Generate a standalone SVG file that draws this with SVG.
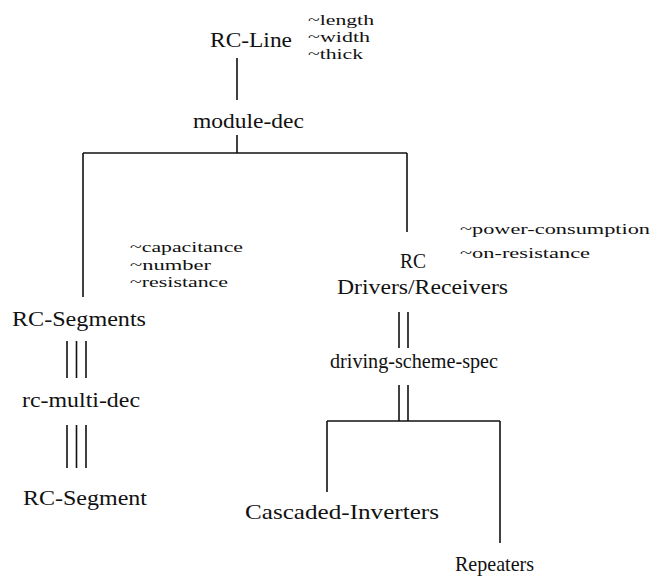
<svg xmlns="http://www.w3.org/2000/svg" width="652" height="577" viewBox="0 0 652 577">
  <style>
    .lbl { font-family: "Liberation Serif", "Times New Roman", serif; font-size: 22px; fill: #111; }
    .attr { font-family: "Liberation Serif", "Times New Roman", serif; font-size: 15px; fill: #111; }
    .ln { stroke: #111; stroke-width: 1.6; fill: none; }
  </style>
  <rect width="652" height="577" fill="#fff"/>

  <g id="connectors">
    <!-- RC-Line to module-dec -->
    <path class="ln" d="M237 58 V100"/>
    <path class="ln" d="M237 135 V153"/>
    <!-- top fork -->
    <path class="ln" d="M83 153 H407"/>
    <path class="ln" d="M83 153 V297"/>
    <path class="ln" d="M407 153 V232"/>
    <!-- triple links on the left -->
    <path class="ln" d="M67 341 V378 M76.5 341 V378 M86 341 V378"/>
    <path class="ln" d="M67 425 V468 M76.5 425 V468 M86 425 V468"/>
    <!-- double links on the right -->
    <path class="ln" d="M399 312 V348 M408 312 V348"/>
    <path class="ln" d="M399 385 V421 M408 385 V421"/>
    <!-- bottom fork -->
    <path class="ln" d="M327 421 H500"/>
    <path class="ln" d="M327 421 V492"/>
    <path class="ln" d="M500 421 V543"/>
  </g>

  <g id="rc-line">
    <text class="lbl" x="210" y="47" textLength="82" lengthAdjust="spacingAndGlyphs">RC-Line</text>
    <text class="attr" x="308" y="25" textLength="66" lengthAdjust="spacingAndGlyphs">~length</text>
    <text class="attr" x="308" y="42" textLength="62" lengthAdjust="spacingAndGlyphs">~width</text>
    <text class="attr" x="308" y="59" textLength="55" lengthAdjust="spacingAndGlyphs">~thick</text>
  </g>

  <g id="module-dec">
    <text class="lbl" x="193" y="128" textLength="111" lengthAdjust="spacingAndGlyphs">module-dec</text>
  </g>

  <g id="rc-segments">
    <text class="attr" x="130" y="252" textLength="113" lengthAdjust="spacingAndGlyphs">~capacitance</text>
    <text class="attr" x="130" y="269.5" textLength="81" lengthAdjust="spacingAndGlyphs">~number</text>
    <text class="attr" x="130" y="287" textLength="98" lengthAdjust="spacingAndGlyphs">~resistance</text>
    <text class="lbl" x="12" y="326" textLength="134" lengthAdjust="spacingAndGlyphs">RC-Segments</text>
  </g>

  <g id="rc-multi-dec">
    <text class="lbl" x="22" y="407" textLength="118" lengthAdjust="spacingAndGlyphs">rc-multi-dec</text>
  </g>

  <g id="rc-segment">
    <text class="lbl" x="23" y="505" textLength="124" lengthAdjust="spacingAndGlyphs">RC-Segment</text>
  </g>

  <g id="rc-drivers-receivers">
    <text class="attr" x="460" y="234" textLength="190" lengthAdjust="spacingAndGlyphs">~power-consumption</text>
    <text class="attr" x="460" y="258" textLength="130" lengthAdjust="spacingAndGlyphs">~on-resistance</text>
    <text class="lbl" x="400" y="268" textLength="26" lengthAdjust="spacingAndGlyphs">RC</text>
    <text class="lbl" x="337" y="294" textLength="171" lengthAdjust="spacingAndGlyphs">Drivers/Receivers</text>
  </g>

  <g id="driving-scheme-spec">
    <text class="lbl" x="330" y="368" textLength="168" lengthAdjust="spacingAndGlyphs">driving-scheme-spec</text>
  </g>

  <g id="cascaded-inverters">
    <text class="lbl" x="245" y="519" textLength="194" lengthAdjust="spacingAndGlyphs">Cascaded-Inverters</text>
  </g>

  <g id="repeaters">
    <text class="lbl" x="455" y="571" textLength="79" lengthAdjust="spacingAndGlyphs">Repeaters</text>
  </g>
</svg>
